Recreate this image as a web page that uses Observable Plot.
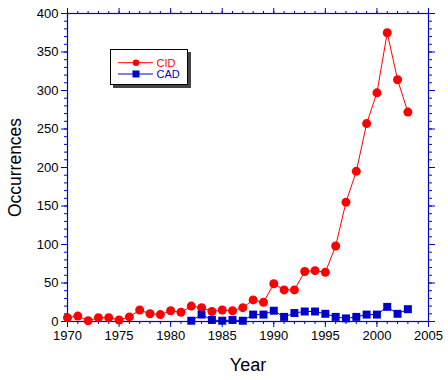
<!DOCTYPE html>
<html>
<head>
<meta charset="utf-8">
<script src="https://cdn.jsdelivr.net/npm/d3@7"></script>
<script src="https://cdn.jsdelivr.net/npm/@observablehq/plot@0.6"></script>
<style>
  html, body { margin: 0; padding: 0; background: #fff; }
  #wrap { position: relative; width: 448px; height: 380px; font-family: Arial, "Liberation Sans", sans-serif; }
  #legend { position: absolute; left: 110px; top: 49px; width: 78px; height: 36px; box-sizing: border-box;
            border: 1px solid #000; background: #fff; box-shadow: 3px 3px 0 #444; }
  #legend svg { position: absolute; left: 0; top: 0; }
</style>
</head>
<body>
<div id="wrap"></div>
<script>
const cidYears = [1970,1971,1972,1973,1974,1975,1976,1977,1978,1979,1980,1981,1982,1983,1984,1985,1986,1987,1988,1989,1990,1991,1992,1993,1994,1995,1996,1997,1998,1999,2000,2001,2002,2003];
const cidValues = [5,7,1,5,5,2,6,15,10,9,14,12,20,18,13,15,14,18,28,25,49,41,41,65,66,64,98,155,195,257,297,375,314,272];
const cadYears = [1982,1983,1984,1985,1986,1987,1988,1989,1990,1991,1992,1993,1994,1995,1996,1997,1998,1999,2000,2001,2002,2003];
const cadValues = [1,9,2,1,2,1,9,9,14,6,11,13,13,10,6,4,6,9,9,19,10,16];
const xTicks = [1970,1975,1980,1985,1990,1995,2000,2005];
const yTicks = [0,50,100,150,200,250,300,350,400];
const seriesNames = ["CID","CAD"];

const RED = "#ff0000", BLUE = "#0000cc", AXIS = "#0000cc";
const cid = cidYears.map((y, i) => ({year: y, value: cidValues[i]}));
const cad = cadYears.map((y, i) => ({year: y, value: cadValues[i]}));
const xMinor = d3.range(1970, 2006, 1);
const yMinor = d3.range(0, 401, 10);
const fmt = d => String(d);

const chart = Plot.plot({
  width: 448, height: 380,
  marginLeft: 67, marginRight: 20, marginTop: 13, marginBottom: 59,
  style: {fontFamily: "Arial, 'Liberation Sans', sans-serif", fontSize: "13px", color: "#000", background: "#fff"},
  x: {domain: [1970, 2005]},
  y: {domain: [0, 400]},
  marks: [
    Plot.axisX({ticks: xMinor, tickSize: 3, text: null, stroke: AXIS, label: null}),
    Plot.axisX({ticks: xTicks, tickSize: 6, tickFormat: fmt, stroke: AXIS, fill: "#000", tickPadding: 3, fontSize: 13, label: null}),
    Plot.axisX({anchor: "top", ticks: xMinor, tickSize: 3, text: null, stroke: AXIS, label: null}),
    Plot.axisX({anchor: "top", ticks: xTicks, tickSize: 6, text: null, stroke: AXIS, label: null}),
    Plot.axisY({ticks: yMinor, tickSize: 3, text: null, stroke: AXIS, label: null}),
    Plot.axisY({ticks: yTicks, tickSize: 6, tickFormat: fmt, stroke: AXIS, fill: "#000", tickPadding: 3, fontSize: 13, label: null}),
    Plot.axisY({anchor: "right", ticks: yMinor, tickSize: 3, text: null, stroke: AXIS, label: null}),
    Plot.axisY({anchor: "right", ticks: yTicks, tickSize: 6, text: null, stroke: AXIS, label: null}),
    Plot.frame({stroke: AXIS, strokeWidth: 1.2}),
    Plot.text(["Year"], {frameAnchor: "bottom", dy: 44, lineAnchor: "middle", fontSize: 18, fill: "#000"}),
    Plot.text(["Occurrences"], {frameAnchor: "left", dx: -52, rotate: -90, lineAnchor: "middle", textAnchor: "middle", fontSize: 17.5, fill: "#000"}),
    Plot.line(cid, {x: "year", y: "value", stroke: RED, strokeWidth: 1}),
    Plot.line(cad, {x: "year", y: "value", stroke: BLUE, strokeWidth: 1}),
    Plot.dot(cid, {x: "year", y: "value", r: 4.5, fill: RED, stroke: "none", symbol: "circle"}),
    Plot.dot(cad, {x: "year", y: "value", r: 4.5, fill: BLUE, stroke: "none", symbol: "square"})
  ]
});

const wrap = document.getElementById("wrap");
wrap.appendChild(chart);

// legend
const legend = document.createElement("div");
legend.id = "legend";
const colors = [RED, BLUE];
const syms = ["circle", "square"];
const svg = d3.create("svg").attr("width", 76).attr("height", 34)
  .style("font-family", "Arial, 'Liberation Sans', sans-serif").style("font-size", "11px");
seriesNames.forEach((name, i) => {
  const cy = 12.7 + i * 11.3;
  svg.append("line").attr("x1", 7).attr("x2", 42).attr("y1", cy).attr("y2", cy).attr("stroke", colors[i]).attr("stroke-width", 1);
  if (syms[i] === "circle") svg.append("circle").attr("cx", 25).attr("cy", cy).attr("r", 3.3).attr("fill", colors[i]);
  else svg.append("rect").attr("x", 21.5).attr("y", cy - 3.5).attr("width", 7).attr("height", 7).attr("fill", colors[i]);
  svg.append("text").attr("x", 45.5).attr("y", cy).attr("dy", "0.36em").attr("fill", colors[i]).text(name);
});
legend.appendChild(svg.node());
wrap.appendChild(legend);
</script>
</body>
</html>
